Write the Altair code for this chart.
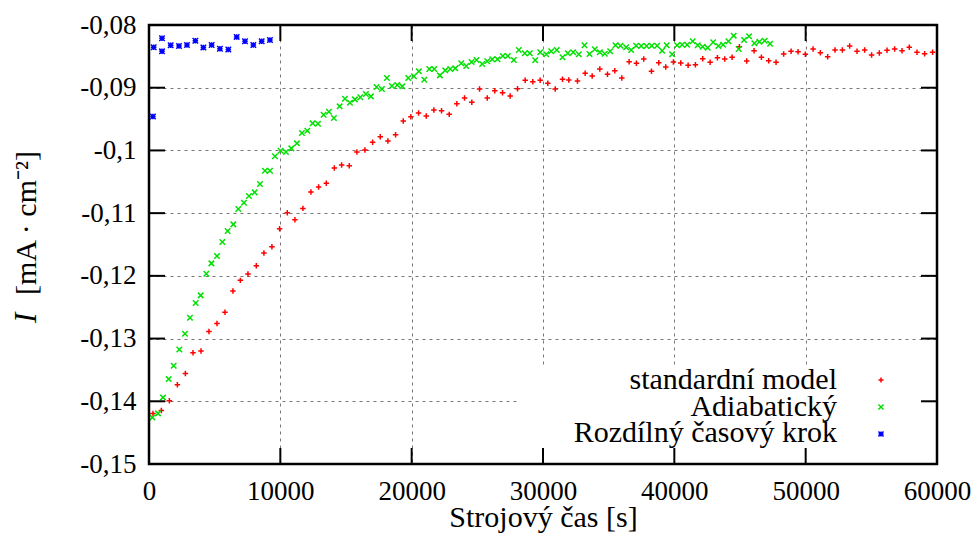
import altair as alt
import pandas as pd

# ---------------- data ----------------
std_t = [305, 940, 1550, 2160, 2770, 3350, 3960, 4565, 5175, 5785, 6390, 6955, 7535, 8170,
         8750, 9360, 9945, 10530, 11110, 11720, 12330, 12915, 13500, 14110, 14665, 15250,
         15830, 16440, 17025, 17610, 18190, 18775, 19360, 19940, 20525, 21110, 21690, 22275,
         22860, 23440, 24025, 24580, 25170, 25755, 26330, 26920, 27500, 28060, 28645, 29225,
         29785, 30365, 30930, 31485, 31965, 32625, 33210, 33745, 34325, 34910, 35465, 36000,
         36560, 37115, 37670, 38260, 38815, 39345, 39930, 40490, 41050, 41605, 42160, 42725,
         43280, 43835, 44400, 44955, 45510, 46070, 46630, 47185, 47745, 48325, 48890, 49420,
         49975, 50565, 51120, 51675, 52235, 52795, 53350, 53910, 54490, 55020, 55610, 56195,
         56775, 57335, 57890, 58475, 59055, 59665]
std_i = [-0.14193, -0.14146, -0.13992, -0.13737, -0.13556, -0.13226, -0.13199, -0.12886,
         -0.12758, -0.12582, -0.12243, -0.12072, -0.11971, -0.11839, -0.11636, -0.11536,
         -0.11249, -0.10993, -0.11105, -0.10924, -0.10663, -0.10584, -0.10525, -0.10281,
         -0.10233, -0.10244, -0.10026, -0.09994, -0.09871, -0.09781, -0.09850, -0.09749,
         -0.09531, -0.09462, -0.09404, -0.09451, -0.09356, -0.09366, -0.09425, -0.09255,
         -0.09164, -0.09233, -0.09021, -0.09164, -0.09048, -0.09080, -0.09132, -0.09016,
         -0.08882, -0.08904, -0.08882, -0.08930, -0.09021, -0.08866, -0.08877, -0.08893,
         -0.08770, -0.08813, -0.08702, -0.08786, -0.08729, -0.08845, -0.08585, -0.08611,
         -0.08542, -0.08739, -0.08601, -0.08670, -0.08590, -0.08606, -0.08643, -0.08633,
         -0.08537, -0.08595, -0.08521, -0.08542, -0.08515, -0.08346, -0.08574, -0.08410,
         -0.08515, -0.08569, -0.08595, -0.08462, -0.08419, -0.08426, -0.08467, -0.08383,
         -0.08442, -0.08506, -0.08399, -0.08399, -0.08335, -0.08419, -0.08399, -0.08478,
         -0.08447, -0.08404, -0.08383, -0.08410, -0.08356, -0.08435, -0.08458, -0.08435]

adi_t = [256, 687, 1065, 1500, 1880, 2310, 2740, 3120, 3555, 3935, 4365, 4750, 5175, 5585,
         5990, 6420, 6800, 7230, 7610, 8045, 8450, 8830, 9210, 9590, 10020, 10430, 10835,
         11265, 11645, 12055, 12460, 12865, 13295, 13700, 14080, 14515, 14920, 15300, 15680,
         16090, 16515, 16895, 17330, 17735, 18115, 18495, 18905, 19285, 19740, 20170, 20550,
         20960, 21340, 21720, 22150, 22555, 22940, 23320, 23775, 24155, 24560, 24940, 25370,
         25755, 26135, 26540, 26940, 27320, 27780, 28160, 28615, 28995, 29405, 29790, 30245,
         30625, 31050, 31485, 31885, 32300, 32725, 33160, 33540, 33945, 34325, 34705, 35115,
         35520, 35900, 36330, 36715, 37095, 37475, 37880, 38280, 38690, 39070, 39420, 39830,
         40215, 40595, 40975, 41400, 41780, 42160, 42540, 42955, 43355, 43715, 44120, 44520,
         44900, 45310, 45690, 46095, 46475, 46880, 47290]
adi_i = [-0.14257, -0.14193, -0.13938, -0.13646, -0.13433, -0.13173, -0.12923, -0.12668,
         -0.12434, -0.12311, -0.11966, -0.11801, -0.11684, -0.11461, -0.11286, -0.11179,
         -0.10935, -0.10834, -0.10727, -0.10669, -0.10536, -0.10323, -0.10323, -0.10094,
         -0.10005, -0.10026, -0.09967, -0.09887, -0.09722, -0.09685, -0.09568, -0.09574,
         -0.09431, -0.09382, -0.09483, -0.09297, -0.09175, -0.09239, -0.09186, -0.09153,
         -0.09100, -0.09138, -0.08989, -0.09021, -0.08845, -0.08973, -0.08957, -0.08978,
         -0.08845, -0.08818, -0.08739, -0.08872, -0.08702, -0.08702, -0.08803, -0.08723,
         -0.08702, -0.08691, -0.08611, -0.08654, -0.08590, -0.08558, -0.08622, -0.08579,
         -0.08547, -0.08547, -0.08494, -0.08494, -0.08558, -0.08399, -0.08451, -0.08451,
         -0.08563, -0.08435, -0.08467, -0.08419, -0.08399, -0.08515, -0.08451, -0.08435,
         -0.08467, -0.08324, -0.08462, -0.08388, -0.08435, -0.08458, -0.08419, -0.08324,
         -0.08330, -0.08356, -0.08399, -0.08330, -0.08335, -0.08335, -0.08330, -0.08330,
         -0.08410, -0.08324, -0.08467, -0.08324, -0.08314, -0.08314, -0.08260, -0.08324,
         -0.08346, -0.08362, -0.08276, -0.08335, -0.08314, -0.08260, -0.08170, -0.08383,
         -0.08239, -0.08180, -0.08292, -0.08266, -0.08250, -0.08298]

dt_t = [300, 358, 990, 990, 1650, 2285, 2890, 3530, 4140, 4770, 5400, 6040, 6675, 7310,
        7945, 8580, 9210]
dt_i = [-0.0946, -0.08356, -0.08212, -0.0842, -0.08324, -0.08335, -0.0832, -0.0825,
        -0.0836, -0.0832, -0.0838, -0.0839, -0.0819, -0.0826, -0.0832, -0.0826, -0.0824]

x_ticks = [0, 10000, 20000, 30000, 40000, 50000, 60000]
y_ticks = [-0.15, -0.14, -0.13, -0.12, -0.11, -0.10, -0.09, -0.08]

series_names = ["standardní model", "Adiabatický", "Rozdílný časový krok"]
series_colors = ["#ff0000", "#00e000", "#0000ff"]

x_title = "Strojový čas [s]"
y_title_italic = "I"
y_title_rest = "[mA · cm⁻²]"

# ---------------- styling ----------------
W, H = 788, 439
FONT = "Liberation Serif"
TICK = 16

PLUS = "M-1,0L1,0M0,-1L0,1"
CROSS = "M-1,-1L1,1M-1,1L1,-1"
STAR = PLUS + CROSS
shapes = [PLUS, CROSS, STAR]

x_axis = alt.Axis(values=x_ticks, format="d", title=x_title, grid=True,
                  gridDash=[3, 4], gridColor="#777777", gridWidth=1,
                  domain=False, ticks=False, tickSize=0, labelPadding=14,
                  labelFont=FONT, labelFontSize=27, labelColor="black",
                  labelFlush=False, labelOverlap=False, labelBound=False,
                  titleFont=FONT, titleFontSize=30, titleFontWeight="normal",
                  titleColor="black", titleY=62, titleBaseline="alphabetic")
y_axis = alt.Axis(values=y_ticks, title=None, grid=True,
                  gridDash=[3, 4], gridColor="#777777", gridWidth=1,
                  domain=False, ticks=False, tickSize=0, labelPadding=13,
                  labelExpr="'-' + replace(format(-datum.value, '.2~f'), '.', ',')",
                  labelFont=FONT, labelFontSize=27, labelColor="black",
                  labelFlush=False, labelOverlap=False, labelBound=False)

x_scale = alt.Scale(domain=[0, 60000], nice=False, zero=False)
y_scale = alt.Scale(domain=[-0.15, -0.08], nice=False, zero=False)

X = alt.X("t:Q", scale=x_scale, axis=x_axis)
Y = alt.Y("i:Q", scale=y_scale, axis=y_axis)

one = pd.DataFrame({"k": [0]})

# background grid carrier (axes)
base_grid = alt.Chart(pd.DataFrame({"t": x_ticks[:1], "i": y_ticks[:1]})).mark_point(
    opacity=0).encode(x=X, y=Y)

# white legend box (hides grid)
legend_box = alt.Chart(one).mark_rect(fill="white").encode(
    x=alt.value(369), x2=alt.value(W), y=alt.value(340), y2=alt.value(H))

# data layers
series_t = [std_t, adi_t, dt_t]
series_i = [std_i, adi_i, dt_i]
data_layers = []
for name, col, shp, ts, vs in zip(series_names, series_colors, shapes, series_t, series_i):
    df = pd.DataFrame({"t": ts, "i": vs, "s": name})
    data_layers.append(
        alt.Chart(df).mark_point(shape=shp, filled=False, color=col, size=30,
                                 strokeWidth=1.5, opacity=1).encode(x=X, y=Y))

# inward ticks on all four sides
xt = pd.DataFrame({"t": x_ticks})
yt = pd.DataFrame({"i": y_ticks})
tick_style = dict(color="black", strokeWidth=2)
ticks = [
    alt.Chart(xt).mark_rule(**tick_style).encode(x=X, y=alt.value(H), y2=alt.value(H - TICK)),
    alt.Chart(xt).mark_rule(**tick_style).encode(x=X, y=alt.value(0), y2=alt.value(TICK)),
    alt.Chart(yt).mark_rule(**tick_style).encode(y=Y, x=alt.value(0), x2=alt.value(TICK)),
    alt.Chart(yt).mark_rule(**tick_style).encode(y=Y, x=alt.value(W), x2=alt.value(W - TICK)),
]

frame = alt.Chart(one).mark_rect(fillOpacity=0, stroke="black", strokeWidth=2.5).encode(
    x=alt.value(0), x2=alt.value(W), y=alt.value(0), y2=alt.value(H))

# legend (text on the left, symbol on the right, gnuplot style)
leg_text_y = [364, 390.5, 416.5]
leg_sym_y = [355, 382, 409]
legend_layers = []
for name, col, shp, ty, sy in zip(series_names, series_colors, shapes, leg_text_y, leg_sym_y):
    legend_layers.append(
        alt.Chart(one).mark_text(text=name, font=FONT, fontSize=30, align="right",
                                 baseline="alphabetic", color="black").encode(
            x=alt.value(688), y=alt.value(ty)))
    legend_layers.append(
        alt.Chart(one).mark_point(shape=shp, filled=False, color=col, size=26,
                                  strokeWidth=1.5, opacity=1).encode(
            x=alt.value(732), y=alt.value(sy)))

# y-axis title with italic I
ytitle = [
    alt.Chart(one).mark_text(text=y_title_italic, font=FONT, fontSize=31, fontStyle="italic",
                             angle=270, align="left", baseline="alphabetic",
                             color="black").encode(x=alt.value(-113), y=alt.value(298)),
    alt.Chart(one).mark_text(text=y_title_rest, font=FONT, fontSize=30,
                             angle=270, align="left", baseline="alphabetic",
                             color="black").encode(x=alt.value(-113), y=alt.value(270)),
]

chart = alt.layer(base_grid, legend_box, *data_layers, *ticks, frame, *legend_layers,
                  *ytitle).properties(
    width=W, height=H,
    autosize=alt.AutoSizeParams(type="none"),
    padding={"left": 149, "top": 25, "right": 42, "bottom": 78},
    background="white",
).configure_view(strokeWidth=0)

chart.save("out.html", embed_options={"renderer": "svg", "actions": False})
